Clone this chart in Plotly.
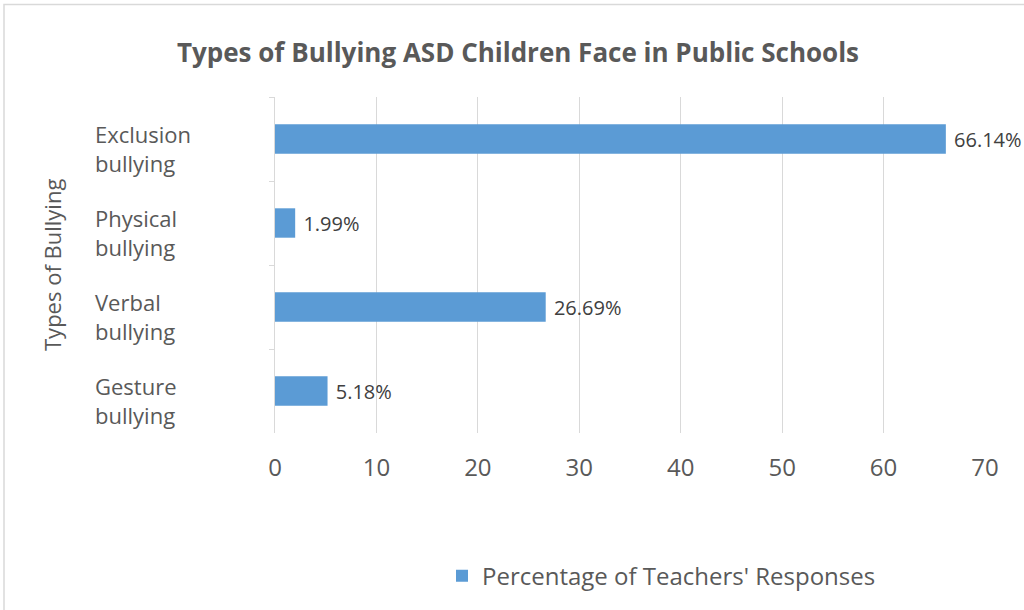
import plotly.graph_objects as go

categories = ["Exclusion bullying", "Physical bullying", "Verbal bullying", "Gesture bullying"]
cat_lines = ["Exclusion<br>bullying", "Physical<br>bullying", "Verbal<br>bullying", "Gesture<br>bullying"]
values = [66.14, 1.99, 26.69, 5.18]
x_ticks = [0, 10, 20, 30, 40, 50, 60, 70]
title = "Types of Bullying ASD Children Face in Public Schools"
y_title = "Types of Bullying"
series_name = "Percentage of Teachers' Responses"

FONT = "Open Sans"
GRAY = "#595959"

L, R, T, B = 275, 39, 97, 175
PW, PH = 1024 - L - R, 610 - T - B

def px_x(p):
    return (p - L) / PW

def px_y(p):
    return (610 - B - p) / PH

fig = go.Figure()
fig.add_trace(go.Bar(
    y=categories, x=values, orientation="h",
    marker=dict(color="#5B9BD5", line=dict(width=0)),
    name=series_name,
    text=[" " + f"{v:.2f}%" for v in values],
    textposition="outside",
    textfont=dict(family=FONT, size=20, color="#404040"),
    cliponaxis=False,
    showlegend=True,
))

annotations = []
for c, lbl in zip(categories, cat_lines):
    annotations.append(dict(
        x=px_x(93), xref="paper", y=c, yref="y",
        text=lbl, showarrow=False, xanchor="left", yanchor="middle", align="left",
        yshift=-9, font=dict(family=FONT, size=22, color=GRAY),
    ))
annotations.append(dict(
    x=px_x(52), xref="paper", y=px_y(266), yref="paper", text=y_title,
    textangle=-90, showarrow=False, xanchor="center", yanchor="middle",
    font=dict(family=FONT, size=22, color=GRAY),
))

fig.update_layout(
    width=1024, height=610,
    margin=dict(l=L, r=R, t=T, b=B),
    paper_bgcolor="white", plot_bgcolor="white",
    title=dict(text="<b>" + title + "</b>", x=518 / 1024, xanchor="center",
               y=1 - 53 / 610, yanchor="middle",
               font=dict(family=FONT, size=26, color=GRAY)),
    bargap=0.65,
    xaxis=dict(range=[0, 70], tickvals=x_ticks, showgrid=True, gridcolor="#D9D9D9",
               gridwidth=1, zeroline=False, showline=False,
               tickfont=dict(family=FONT, size=24, color=GRAY), ticks="", ticklabelstandoff=18),
    yaxis=dict(autorange="reversed", showticklabels=False, showline=True,
               linecolor="#D9D9D9", linewidth=1, ticks="outside", tickson="boundaries",
               ticklen=5, tickcolor="#D9D9D9", showgrid=False, zeroline=False),
    legend=dict(orientation="h", x=px_x(442), xanchor="left", y=px_y(579), yanchor="middle",
                font=dict(family=FONT, size=24, color=GRAY), itemwidth=30),
    annotations=annotations,
    shapes=[dict(type="rect", xref="paper", yref="paper",
                 x0=px_x(4), x1=px_x(1100), y0=px_y(700), y1=px_y(4),
                 line=dict(color="#D9D9D9", width=1.5), fillcolor="rgba(0,0,0,0)", layer="below")],
)

fig.write_html("out.html")
